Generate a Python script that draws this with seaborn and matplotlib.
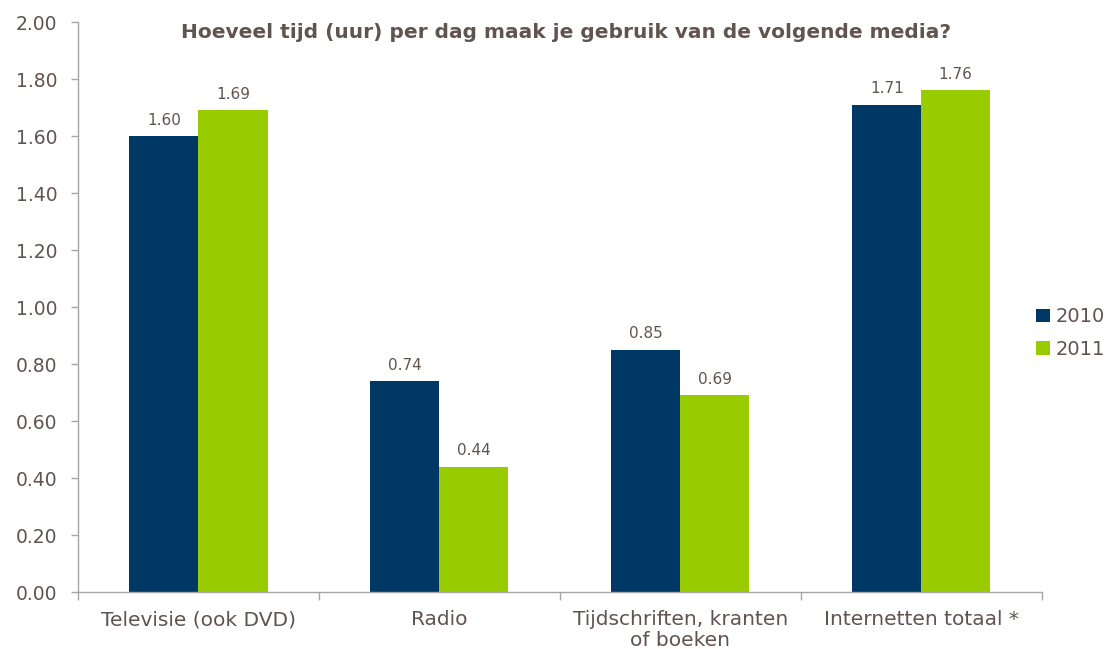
import matplotlib
matplotlib.use("Agg")
import matplotlib.pyplot as plt
import seaborn as sns
import pandas as pd
from matplotlib.ticker import FormatStrFormatter, FixedLocator

categories = ["Televisie (ook DVD)", "Radio", "Tijdschriften, kranten\nof boeken", "Internetten totaal *"]
years = ["2010", "2011"]
values_2010 = [1.60, 0.74, 0.85, 1.71]
values_2011 = [1.69, 0.44, 0.69, 1.76]
title = "Hoeveel tijd (uur) per dag maak je gebruik van de volgende media?"

df = pd.DataFrame({
    "cat": categories * 2,
    "year": [years[0]] * 4 + [years[1]] * 4,
    "val": values_2010 + values_2011,
})

sns.set_style("white")
plt.rcParams["font.family"] = ["DejaVu Sans"]
text_col = "#5f5450"
spine_col = "#a6a6a6"

fig = plt.figure(figsize=(11.07, 6.49), dpi=100)
ax = fig.add_axes([0.0705, 0.0878, 0.8705, 0.8782])
sns.barplot(data=df, x="cat", y="val", hue="year", order=categories, hue_order=years,
            palette=["#003865", "#99cc00"], width=0.573, gap=0, saturation=1,
            ax=ax, legend=True, linewidth=0)

for cont in ax.containers:
    ax.bar_label(cont, fmt="%.2f", padding=6, fontsize=11, color=text_col)

ax.set_ylim(0, 2.0)
ax.set_xlim(-0.5, 3.5)
ax.yaxis.set_major_formatter(FormatStrFormatter("%.2f"))
ax.set_yticks([i * 0.2 for i in range(11)])
ax.set_xlabel("")
ax.set_ylabel("")
ax.tick_params(axis="y", labelsize=13.5, colors=spine_col, labelcolor=text_col, length=5, width=1, direction="out", left=True, pad=10)
ax.tick_params(axis="x", labelsize=14.5, colors=spine_col, labelcolor=text_col, length=0, pad=13)
ax.xaxis.set_minor_locator(FixedLocator([-0.5, 0.5, 1.5, 2.5, 3.5]))
ax.tick_params(axis="x", which="minor", bottom=True, length=6, width=1, colors=spine_col, direction="out")
for lbl in ax.get_xticklabels():
    lbl.set_linespacing(1.1)
for s in ["top", "right"]:
    ax.spines[s].set_visible(False)
for s in ["left", "bottom"]:
    ax.spines[s].set_color(spine_col)
    ax.spines[s].set_linewidth(1)

fig.text(0.511, 1 - 33 / 649, title, fontsize=14.5, fontweight="bold", color=text_col,
         ha="center", va="center")

leg = ax.legend(loc="center left", bbox_to_anchor=(0.936, 0.487), bbox_transform=fig.transFigure,
                frameon=False, fontsize=14, handlelength=0.7, handleheight=0.7, handletextpad=0.3,
                labelspacing=0.7, borderpad=0, borderaxespad=0)
for t in leg.get_texts():
    t.set_color(text_col)

fig.savefig("out.png", dpi=100)
